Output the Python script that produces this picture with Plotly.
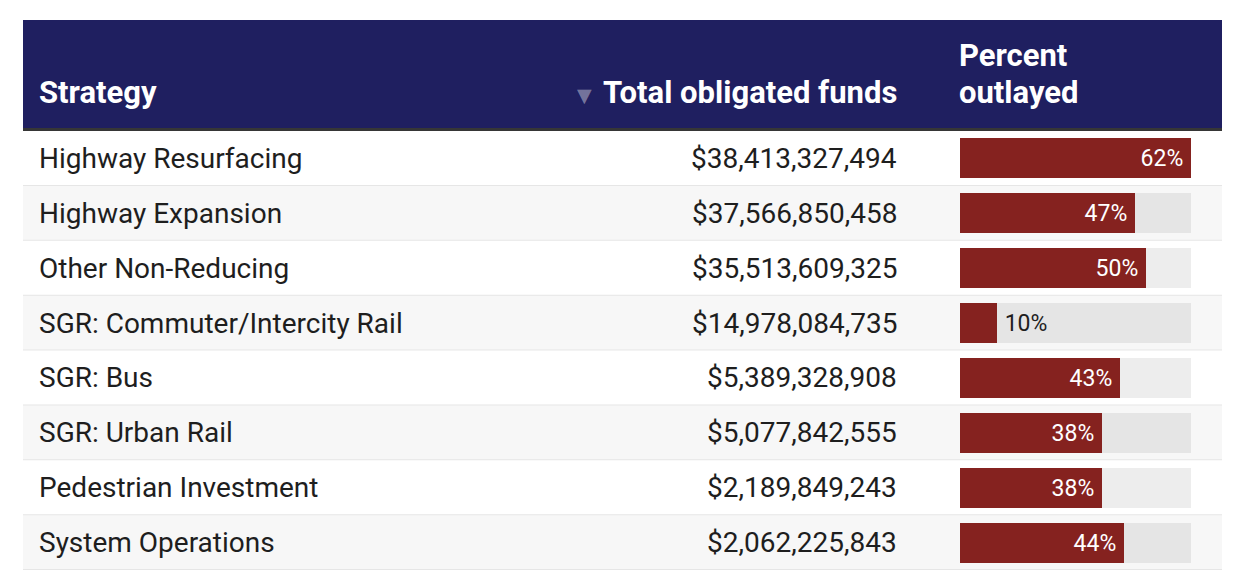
"""Strategy table: obligated funds and percent outlayed."""

import plotly.graph_objects as go

# page body has an 8px margin, so the figure sits 8px in from the corner
OFFSET = 8
W, H = 1246 - OFFSET, 576 - OFFSET

strategies = [
    "Highway Resurfacing",
    "Highway Expansion",
    "Other Non-Reducing",
    "SGR: Commuter/Intercity Rail",
    "SGR: Bus",
    "SGR: Urban Rail",
    "Pedestrian Investment",
    "System Operations",
]
obligated_funds = [
    38413327494,
    37566850458,
    35513609325,
    14978084735,
    5389328908,
    5077842555,
    2189849243,
    2062225843,
]
pct_outlayed = [62, 47, 50, 10, 43, 38, 38, 44]

headers = ["Strategy", "Total obligated funds", "Percent<br>outlayed"]

NAVY = "#1f1f60"
BAR = "#85221f"
TEXT = "#1e1e1e"
FONT = "Roboto"


def px(x):
    """screen x (px) -> paper"""
    return (x - OFFSET) / W


def py(y):
    """screen y (px) -> paper"""
    return 1 - (y - OFFSET) / H


fig = go.Figure()

max_pct = max(pct_outlayed)

# bar track (light background)
fig.add_trace(
    go.Bar(
        y=strategies,
        x=[max_pct] * len(strategies),
        orientation="h",
        width=0.73,
        marker={"color": "rgba(0,0,0,0.07)", "line": {"width": 0}},
        hoverinfo="skip",
        showlegend=False,
    )
)

# percent outlayed bars; small bars get their label outside
outside = [v < 15 for v in pct_outlayed]
fig.add_trace(
    go.Bar(
        y=strategies,
        x=pct_outlayed,
        orientation="h",
        width=0.73,
        marker={"color": BAR, "line": {"width": 0}},
        text=[f"\u2009{v}%" if o else f"{v}%\u2009" for v, o in zip(pct_outlayed, outside)],
        textposition=["outside" if o else "inside" for o in outside],
        insidetextanchor="end",
        insidetextfont={"family": FONT, "size": 23, "color": "white"},
        outsidetextfont={"family": FONT, "size": 23, "color": TEXT},
        constraintext="none",
        cliponaxis=False,
        showlegend=False,
        hovertemplate="%{y}: %{x}%<extra></extra>",
    )
)

shapes = []
# header band
shapes.append(
    dict(type="rect", xref="paper", yref="paper",
         x0=px(23), x1=px(1222), y0=py(128), y1=py(20),
         fillcolor=NAVY, line={"width": 0}, layer="below")
)
shapes.append(
    dict(type="line", xref="paper", yref="paper",
         x0=px(23), x1=px(1222), y0=py(129.5), y1=py(129.5),
         line={"color": "#363636", "width": 3}, layer="above")
)
# row banding and separators
for i in range(len(strategies)):
    shapes.append(
        dict(type="rect", xref="paper", yref="y",
             x0=px(23), x1=px(1222), y0=i - 0.5, y1=i + 0.5,
             fillcolor="#ffffff" if i % 2 == 0 else "#f7f7f7",
             line={"width": 0}, layer="below")
    )
    shapes.append(
        dict(type="line", xref="paper", yref="y",
             x0=px(23), x1=px(1222), y0=i + 0.5, y1=i + 0.5,
             line={"color": "#e6e6e6", "width": 2}, layer="below")
    )

annotations = []
# header texts
head_font = {"family": FONT, "size": 31, "color": "white", "weight": "bold"}
annotations.append(dict(text=headers[0], xref="paper", yref="paper",
                        x=px(37), y=py(92), xanchor="left", yanchor="middle",
                        showarrow=False, font=head_font))
annotations.append(dict(text=headers[1], xref="paper", yref="paper",
                        x=px(899), y=py(92), xanchor="right", yanchor="middle",
                        showarrow=False, font=head_font))
for line, y in zip(headers[2].split("<br>"), [55, 92]):
    annotations.append(dict(text=line, xref="paper", yref="paper",
                            x=px(957), y=py(y), xanchor="left", yanchor="middle",
                            showarrow=False, font=head_font))
# sort indicator
annotations.append(dict(text="▼", xref="paper", yref="paper",
                        x=px(584), y=py(95), xanchor="center", yanchor="middle",
                        showarrow=False,
                        font={"family": "DejaVu Sans", "size": 19,
                              "color": "rgba(255,255,255,0.4)"}))

# body texts
body_font = {"family": FONT, "size": 28, "color": TEXT}
for name, funds in zip(strategies, obligated_funds):
    annotations.append(dict(text=name, xref="paper", yref="y",
                            x=px(37), y=name, xanchor="left", yanchor="middle",
                            showarrow=False, font=body_font))
    annotations.append(dict(text=f"${funds:,}", xref="paper", yref="y",
                            x=px(899), y=name, xanchor="right", yanchor="middle",
                            showarrow=False, font=body_font))

fig.update_layout(
    width=W,
    height=H,
    margin={"l": 0, "r": 0, "t": 0, "b": 0},
    paper_bgcolor="white",
    plot_bgcolor="rgba(0,0,0,0)",
    barmode="overlay",
    bargap=0,
    shapes=shapes,
    annotations=annotations,
    xaxis={"domain": [px(960), px(1191)], "range": [0, max_pct],
           "visible": False, "fixedrange": True},
    yaxis={"domain": [py(570), py(131)], "type": "category",
           "categoryorder": "array", "categoryarray": strategies,
           "range": [len(strategies) - 0.5, -0.5],
           "visible": False, "fixedrange": True},
    font={"family": FONT},
)

fig.write_html("out.html")
